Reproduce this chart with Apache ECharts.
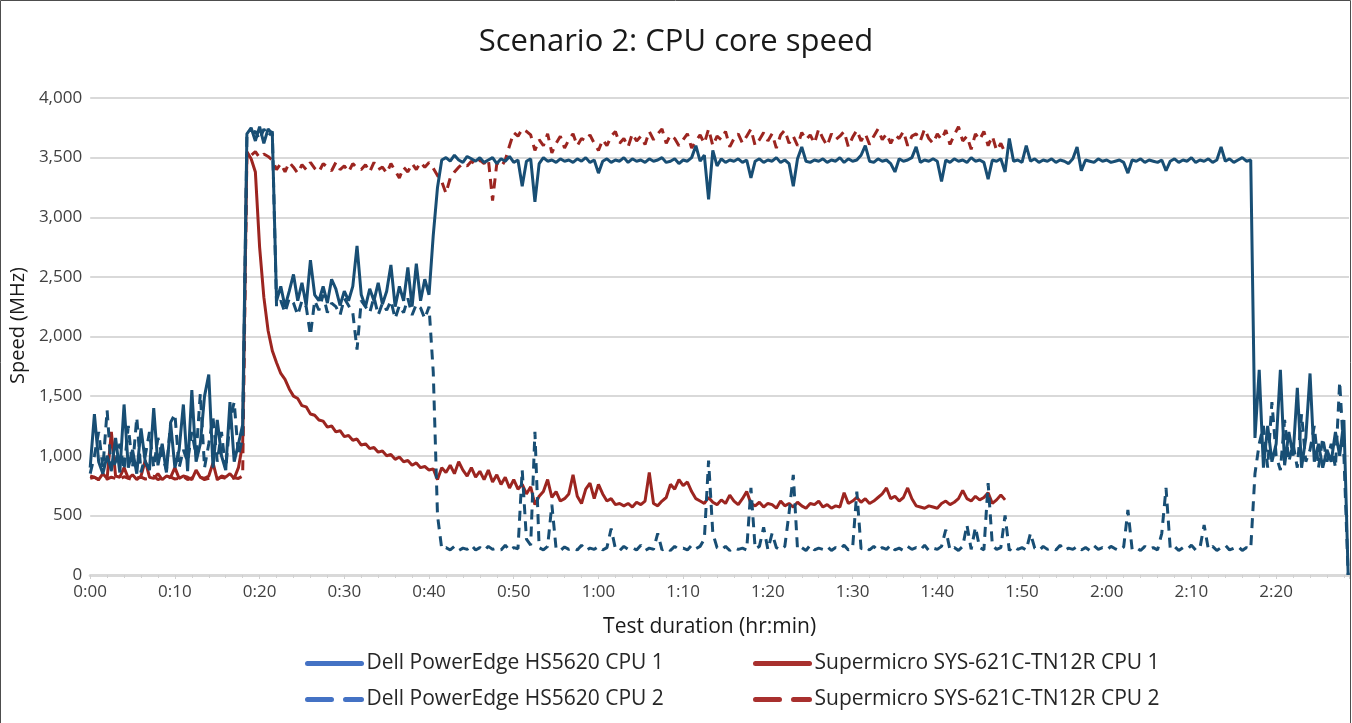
<!DOCTYPE html>
<html><head><meta charset="utf-8">
<script src="https://cdn.jsdelivr.net/npm/echarts@6.0.0/dist/echarts.min.js"></script>
<style>html,body{margin:0;padding:0;background:#fff}#c{width:1352px;height:723px}</style>
</head><body><div id="c"></div>
<script>
// Sampling interval of all series, minutes
const STEP_MIN = 0.5;

const seriesNames = [
  'Dell PowerEdge HS5620 CPU 1',
  'Supermicro SYS-621C-TN12R CPU 1',
  'Dell PowerEdge HS5620 CPU 2',
  'Supermicro SYS-621C-TN12R CPU 2'
];

const xTickLabels = ['0:00','0:10','0:20','0:30','0:40','0:50','1:00','1:10','1:20','1:30','1:40','1:50','2:00','2:10','2:20'];
const yTickLabels = ['0','500','1,000','1,500','2,000','2,500','3,000','3,500','4,000'];

// Speed in MHz, one value per 0.5 minute
const dellCpu1 = [
900,1350,950,850,1000,880,1150,860,1430,900,1050,850,1230,950,880,1400,920,1100,860,1270,900,1050,1430,870,1550,950,1100,1500,1680,900,1300,1000,880,1450,950,1100,1260,
3700,3750,3640,3760,3620,3740,3700,
2300,2420,2250,2380,2520,2300,2450,2260,2640,2350,2300,2420,2280,2480,2400,2260,2380,2300,2420,2760,2350,2250,2400,2300,2450,2270,2380,2600,2250,2420,2300,2580,2250,2610,2300,2480,
2350,2850,3250,3480,
3500,3470,3520,3480,3460,3510,3490,3470,3500,3460,
3480,3500,3450,3490,3470,3510,3460,3480,3260,3470,
3490,3130,3450,3500,3470,3480,3460,3490,3470,3480,
3460,3490,3470,3500,3460,3480,3370,3470,3490,3460,
3480,3470,3500,3460,3490,3470,3480,3460,3490,3470,
3480,3500,3460,3470,3490,3450,3480,3470,3500,3600,
3470,3520,3150,3560,3430,3490,3460,3480,3470,3490,
3460,3480,3330,3470,3490,3460,3480,3470,3500,3460,
3480,3450,3260,3490,3590,3470,3460,3480,3470,3490,
3460,3480,3470,3500,3460,3490,3470,3480,3520,3600,
3470,3460,3490,3470,3480,3450,3380,3490,3470,3480,
3500,3590,3460,3480,3470,3490,3470,3300,3480,3460,
3490,3470,3480,3460,3500,3470,3480,3460,3320,3480,
3470,3490,3380,3660,3470,3480,3460,3600,3470,3490,
3460,3480,3470,3490,3460,3480,3470,3450,3490,3590,
3390,3480,3470,3460,3490,3470,3480,3460,3470,3480,
3460,3370,3480,3470,3490,3460,3480,3470,3460,3480,
3390,3470,3490,3460,3480,3470,3500,3460,3480,3470,
3490,3460,3480,3590,3470,3490,3460,3480,3500,3470,
3480,
1150,1720,900,1250,950,1100,1720,920,1200,1000,1570,900,1150,1690,950,1100,900,1050,950,1200,1000,1300,0
];

const dellCpu2 = [
850,1000,1200,900,1380,870,950,1100,880,1250,900,1320,860,1000,1200,900,1150,1000,880,1280,1350,900,1050,950,1200,1000,1520,900,1100,1320,950,1200,880,1300,1450,1000,1150,
3680,3700,3720,3650,3740,3680,3720,
2250,2300,2200,2320,2280,2180,2300,2250,2010,2300,2220,2350,2200,2280,2250,2180,2320,2260,2200,1890,2300,2250,2200,2330,2180,2280,2220,2300,2150,2260,2200,2320,2180,2270,2240,2150,
2250,1700,500,220,
230,210,240,205,225,215,250,210,230,205,
240,215,225,210,250,205,230,220,880,300,
250,1200,230,210,240,590,220,205,235,215,
230,210,250,205,225,215,240,210,230,390,
220,205,240,215,230,210,250,205,225,215,
350,210,230,205,240,215,225,210,250,220,
240,300,960,350,230,210,240,205,230,215,
225,210,730,220,240,400,215,350,230,210,
240,520,840,215,230,205,250,210,225,215,
240,205,230,215,250,210,225,700,220,235,
210,240,205,230,215,250,210,225,205,240,
215,230,210,250,205,225,215,240,380,210,
230,205,240,420,215,400,230,210,770,250,
215,230,500,205,240,215,230,210,350,225,
205,240,215,230,210,250,205,225,215,240,
210,230,205,245,215,230,210,240,220,205,
235,545,215,230,205,240,215,230,210,350,
730,220,240,205,230,215,250,210,225,420,
215,240,205,230,250,210,225,240,205,230,
220,
850,1100,1250,900,1450,1000,880,1300,950,1100,900,1350,950,1050,1250,900,1150,950,1100,900,1620,1000,0
];

const superCpu1 = [
830,820,800,850,810,1200,830,820,900,810,840,800,830,960,820,810,850,800,830,820,900,810,830,820,800,880,820,810,830,940,800,830,820,850,810,900,1100,
3550,3490,3380,2750,2330,2050,1880,1780,
1690,1640,1560,1500,1480,1420,1410,1350,1340,1300,1290,1240,1250,1200,1210,1160,1170,1130,1140,1090,1100,1060,1070,1030,1040,1000,1010,970,990,950,960,920,940,900,910,880,890,
800,900,860,920,850,950,880,830,900,820,870,800,880,780,840,760,820,730,800,720,760,680,740,590,660,700,800,650,700,620,640,680,840,660,600,720,770,640,760,680,620,640,590,600,
580,600,570,610,590,620,860,600,580,620,
650,760,720,800,750,780,700,640,620,600,
650,610,590,630,600,670,620,590,640,700,
600,580,610,570,600,590,560,620,580,600,
570,610,580,560,600,590,620,570,590,560,
580,570,690,600,620,650,610,640,600,620,
650,680,730,640,660,620,650,730,640,580,
570,560,580,570,560,600,620,590,610,640,
710,640,620,660,630,650,690,600,630,670,630
];

const superCpu2 = [
810,820,800,815,805,820,810,800,825,810,800,815,820,805,810,830,800,815,810,820,805,810,825,800,815,810,820,800,810,815,805,820,810,800,815,810,830,
3540,3520,3550,3500,3530,3510,3480,
3400,3450,3380,3460,3420,3370,3440,3400,3460,3410,3380,3450,3420,3390,3460,3400,3430,3380,3450,3410,3400,3440,3380,3460,3400,3420,3370,3450,3390,3330,3420,3380,3450,3400,3460,3420,
3460,3410,3350,3300,3200,3330,3380,3420,3450,3430,3470,3440,3480,3450,3490,3140,3450,3420,3480,3600,
3710,3680,3740,3720,3690,3560,3650,3600,3700,3540,
3620,3680,3580,3650,3700,3600,3660,3640,3690,3620,
3560,3650,3600,3680,3720,3620,3660,3590,3700,3640,
3680,3610,3720,3650,3700,3740,3620,3690,3660,3600,
3650,3700,3580,3640,3690,3620,3740,3600,3680,3650,
3720,3590,3660,3700,3620,3680,3740,3600,3650,3710,
3640,3700,3580,3690,3730,3620,3680,3600,3710,3650,
3690,3620,3740,3660,3600,3700,3650,3680,3720,3590,
3670,3730,3640,3700,3610,3680,3740,3650,3700,3620,
3690,3660,3720,3600,3680,3700,3640,3740,3660,3620,
3700,3650,3730,3610,3690,3760,3640,3680,3570,3700,
3650,3720,3600,3680,3560,3620,3540
];

const BLUE = '#184E74', RED = '#9C2520';
const BLUE_LEG = '#4472C4', RED_LEG = '#A8302E';
const FONT = '"Open Sans", Lato, sans-serif';

function toPairs(vals) { return vals.map((v, i) => [i * STEP_MIN, v]); }

const chart = echarts.init(document.getElementById('c'), null, {renderer: 'canvas'});

function mkLegend(name, left, top, color, dashed) {
  return {
    data: [name], left: left, top: top, orient: 'horizontal',
    itemWidth: 54, itemHeight: 12, itemGap: 12,
    textStyle: {fontSize: 21, color: '#262626', fontFamily: FONT},
    lineStyle: {color: color, width: 5, type: dashed ? [24, 14] : 'solid', cap: 'round'},
    itemStyle: {color: 'rgba(0,0,0,0)', borderWidth: 0, opacity: 0}, selectedMode: false
  };
}

function mkSeries(name, vals, color, dashed, z) {
  return {
    name: name, type: 'line', data: toPairs(vals), symbol: 'none', showSymbol: false,
    z: z, lineStyle: {color: color, width: 3, type: dashed ? [10, 7] : 'solid'},
    itemStyle: {color: color}, emphasis: {disabled: true}, animation: false
  };
}

chart.setOption({
  animation: false,
  textStyle: {fontFamily: FONT},
  title: {
    text: 'Scenario 2: CPU core speed', left: 'center', top: 22,
    textStyle: {fontSize: 31, fontWeight: 'normal', color: '#1a1a1a', fontFamily: FONT}
  },
  grid: {left: 86, right: 3, top: 98, bottom: 148, containLabel: false},
  xAxis: {
    type: 'value', min: 0, max: 148.6, interval: 10,
    axisLine: {show: true, lineStyle: {color: '#d9d9d9', width: 3}},
    axisTick: {show: true, length: 4, lineStyle: {color: '#d0d0d0', width: 1}},
    minorTick: {show: true, splitNumber: 5, length: 3, lineStyle: {color: '#d0d0d0', width: 1}},
    splitLine: {show: false},
    axisLabel: {
      fontSize: 17, color: '#404040', margin: 9, fontFamily: FONT, showMaxLabel: false,
      formatter: function (v) { const k = Math.round(v / 10); return Math.abs(v - k * 10) < 1e-6 && xTickLabels[k] ? xTickLabels[k] : ''; }
    },
    name: 'Test duration (hr:min)', nameLocation: 'middle', nameGap: 42,
    nameTextStyle: {fontSize: 21, color: '#1a1a1a', fontFamily: FONT, padding: [0, 20, 0, 0]}
  },
  yAxis: {
    type: 'value', min: 0, max: 4000, interval: 500,
    axisLine: {show: false}, axisTick: {show: false},
    splitLine: {show: true, lineStyle: {color: '#d9d9d9', width: 2}},
    axisLabel: {
      fontSize: 17, color: '#404040', margin: 8, fontFamily: FONT,
      formatter: function (v) { return yTickLabels[Math.round(v / 500)]; }
    },
    name: 'Speed (MHz)', nameLocation: 'middle', nameGap: 58, nameRotate: 90,
    nameTextStyle: {fontSize: 20, color: '#1a1a1a', fontFamily: FONT, padding: [0, 0, 0, 22]}
  },
  legend: [
    mkLegend(seriesNames[0], 300, 648, BLUE_LEG, false),
    mkLegend(seriesNames[1], 748, 648, RED_LEG, false),
    mkLegend(seriesNames[2], 300, 684, BLUE_LEG, true),
    mkLegend(seriesNames[3], 748, 684, RED_LEG, true)
  ],
  graphic: [{
    type: 'rect', shape: {x: 0.5, y: 0.5, width: 1350, height: 740},
    style: {fill: 'none', stroke: '#4d4d4d', lineWidth: 1}, silent: true, z: 100
  }],
  series: [
    mkSeries(seriesNames[3], superCpu2, RED, true, 2),
    mkSeries(seriesNames[1], superCpu1, RED, false, 3),
    mkSeries(seriesNames[2], dellCpu2, BLUE, true, 4),
    mkSeries(seriesNames[0], dellCpu1, BLUE, false, 5)
  ]
});
</script>
</body></html>
